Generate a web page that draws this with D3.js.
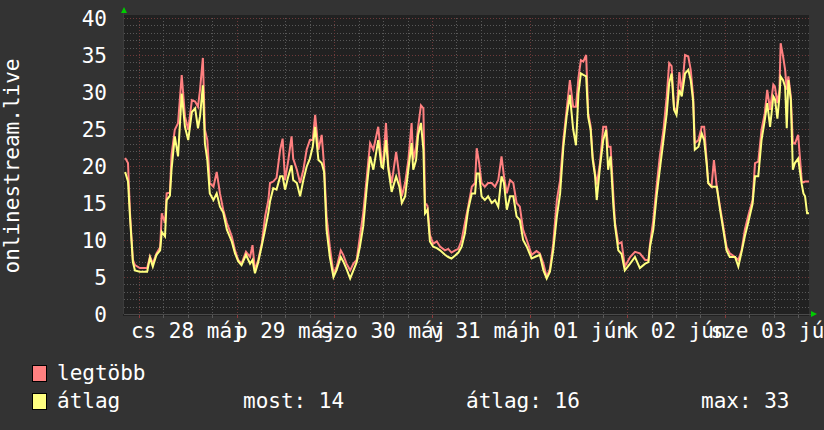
<!DOCTYPE html>
<html><head><meta charset="utf-8">
<script src="https://cdn.jsdelivr.net/npm/d3@7"></script>
<style>
html,body{margin:0;padding:0;background:#333333;}
svg{display:block;}
text{font-family:"DejaVu Sans Mono",monospace;fill:#ffffff;}
</style>
</head><body>
<svg id="chart" width="824" height="430"></svg>
<script>
// hours since 2015-05-28 00:00 (UTC-based clock)
const hours = [-3.4,-2.7,-2.2,-1.5,-1.0,0.2,2.0,2.7,3.4,4.3,5.2,5.6,6.4,6.8,7.6,8.0,8.8,9.6,10.5,11.3,12.1,13.0,13.8,14.5,15.0,15.7,16.2,16.8,17.4,18.3,19.1,19.9,20.7,21.6,22.8,23.6,24.4,25.2,26.3,27.3,27.9,28.5,29.3,30.2,31.0,31.8,32.2,33.0,33.8,34.7,35.3,35.9,36.7,37.5,37.9,38.8,39.6,40.4,41.2,42.0,42.7,43.3,44.1,44.9,45.5,46.1,46.9,47.8,48.6,49.6,50.2,51.0,51.9,52.7,53.5,54.3,55.1,56.0,56.8,57.6,58.8,59.6,60.0,60.7,61.3,62.1,63.2,64.0,64.6,65.4,66.2,67.0,67.4,68.1,68.6,69.3,69.9,70.3,70.9,71.5,72.3,73.2,74.0,75.2,76.0,76.8,77.7,78.5,79.3,80.1,80.9,81.8,82.6,83.0,83.6,84.2,85.0,85.8,86.7,87.5,88.3,89.1,89.7,90.4,91.2,92.0,92.8,93.6,94.4,95.3,96.5,97.7,98.5,99.4,100.2,101.0,101.8,102.7,103.5,104.3,105.1,105.9,106.7,107.4,108.0,108.6,109.2,109.9,110.4,111.0,111.5,112.1,112.5,113.3,114.1,114.8,115.3,115.9,116.6,117.0,117.8,118.6,119.4,120.7,121.9,123.1,124.4,125.2,125.6,126.4,127.2,128.0,128.9,129.7,130.3,130.9,131.5,132.1,132.8,133.4,134.2,135.0,135.6,136.2,136.6,137.5,138.3,138.9,139.5,139.9,140.7,141.3,142.0,142.8,143.6,144.4,145.2,146.5,147.3,148.1,148.9,149.7,150.8,151.4,152.2,153.0,153.8,154.4,155.1,155.9,156.3,156.9,157.4,157.7,158.3,158.8,159.2,159.6,160.2,160.7,161.2,162.0,162.9,163.3,163.7,164.2,164.7];

const maxValues = [21.1,20.4,13.6,7.3,6.6,6.2,6.2,7.8,6.8,8.2,9.0,13.6,12.3,16.3,16.4,21.5,24.9,25.8,32.3,26.7,24.9,28.9,28.7,28.0,30.3,34.6,24.9,23.5,17.7,17.2,19.2,16.3,14.1,12.3,10.5,8.6,7.3,6.8,8.4,7.7,9.3,5.9,7.3,9.6,13.2,15.4,17.7,17.9,18.4,22.2,23.7,18.1,20.8,24.0,21.0,19.5,17.7,19.5,22.2,23.5,23.5,26.9,22.2,24.2,20.0,13.2,9.1,5.5,6.4,8.6,8.0,6.8,5.9,6.8,7.3,10.5,13.6,18.6,23.1,22.2,25.3,20.8,20.4,25.8,19.9,17.7,21.9,18.6,15.9,17.7,20.8,25.8,20.8,22.6,25.3,28.2,27.8,15.0,14.6,10.7,9.5,9.8,9.1,8.6,8.8,8.3,8.6,8.8,10.0,12.3,14.5,17.2,17.7,22.4,20.4,17.7,17.2,17.7,17.7,17.2,18.1,21.3,18.6,16.3,18.1,17.7,15.0,14.5,11.4,10.0,8.0,8.5,8.2,6.8,5.0,6.1,9.5,15.4,18.1,23.5,27.6,31.6,28.0,28.0,31.9,34.3,34.1,35.0,27.1,25.4,21.3,19.0,17.5,20.4,25.3,25.3,22.6,22.6,15.9,12.3,9.5,9.7,6.4,7.7,8.4,8.2,7.3,7.3,9.5,12.7,17.2,21.3,24.9,29.4,33.9,33.5,28.0,27.1,32.7,29.9,35.0,34.8,33.0,29.4,23.1,23.5,25.3,25.3,20.8,17.7,17.2,20.8,17.2,14.5,11.8,9.1,8.2,7.7,7.3,8.6,11.4,13.2,15.4,20.4,20.6,24.9,27.1,30.3,27.6,31.0,30.7,28.5,30.3,36.6,34.8,33.0,30.3,32.1,29.4,23.1,23.0,24.2,17.9,17.8,17.9,17.9,17.9];

const avgValues = [19.2,17.9,13.0,7.0,5.9,5.7,5.7,7.6,6.4,8.0,8.6,11.1,10.5,15.4,16.0,19.5,24.0,21.3,29.8,25.3,23.5,27.3,27.8,25.1,26.7,30.9,23.1,20.8,16.3,15.4,16.3,14.5,13.7,11.4,9.8,8.2,7.1,6.6,8.0,6.8,7.3,5.5,7.0,9.3,11.4,13.7,15.2,17.0,16.8,18.6,18.6,16.8,18.6,20.1,18.1,17.7,15.9,18.1,19.9,21.0,22.6,25.3,20.8,20.4,19.2,11.4,7.7,5.0,6.0,7.7,7.1,6.1,4.8,5.9,7.0,9.1,11.8,17.2,21.3,19.5,23.5,19.9,19.7,23.5,19.5,16.5,18.6,17.2,15.0,15.9,19.5,23.1,19.5,20.8,24.2,25.8,22.2,13.6,14.1,9.8,9.1,8.9,8.6,8.0,7.7,7.5,7.9,8.3,9.1,10.9,14.1,16.3,16.3,19.0,19.0,15.9,15.4,15.9,15.0,15.4,14.5,18.6,17.7,14.1,15.9,15.9,13.2,12.7,10.0,9.1,7.5,7.8,8.0,5.9,4.8,5.7,8.6,13.2,16.3,22.6,26.7,29.6,25.0,22.8,29.8,32.5,32.3,32.1,26.6,24.9,20.9,18.6,15.4,19.9,23.5,24.9,19.5,21.3,14.5,11.9,8.6,8.1,5.9,6.8,7.7,6.2,6.8,7.0,9.1,11.4,15.9,19.5,23.5,27.1,31.2,32.5,27.6,26.9,30.3,29.4,32.5,33.0,31.6,28.7,22.2,22.6,24.4,23.5,20.4,17.7,17.2,17.2,17.2,14.1,11.4,8.6,7.7,7.7,6.4,8.4,10.5,12.3,14.9,18.6,18.6,23.5,26.2,28.5,25.3,29.4,29.0,26.4,29.4,32.1,31.6,30.7,25.1,31.6,28.9,19.5,20.4,21.0,17.5,16.3,15.9,13.6,13.6];

const yTicks = [0,5,10,15,20,25,30,35,40];
const dayLabels = ["cs 28 máj","p 29 máj","szo 30 máj","v 31 máj","h 01 jún","k 02 jún","sze 03 jún"];
const legendNames = ["legtöbb","átlag"];
const legendStats = ["most: 14","átlag: 16","max: 33"];
const axisLabel = "onlinestream.live";

if (hours.length !== maxValues.length || hours.length !== avgValues.length) {
  throw new Error("length mismatch " + hours.length + " " + maxValues.length + " " + avgValues.length);
}

const base = Date.UTC(2015,4,28,0,0);
const H = 3600e3;
const t = h => new Date(base + h*H);

const svg = d3.select("#chart");
const pLeft = 124, pRight = 809, pTop = 18, pBottom = 314;

const x = d3.scaleUtc().domain([t(-3.683), t(164.667)]).range([pLeft, pRight]);
const y = d3.scaleLinear().domain([0,40]).range([pBottom, pTop]);

svg.append("rect").attr("x",0).attr("y",0).attr("width",824).attr("height",430).attr("fill","#333333");
svg.append("rect").attr("x",pLeft-1).attr("y",pTop-3).attr("width",pRight-pLeft+1).attr("height",pBottom-pTop+5).attr("fill","#212121");

const grid = svg.append("g");
d3.range(1,41,1).forEach(v=>{
  const major = v%5===0;
  grid.append("line").attr("x1",pLeft).attr("x2",pRight).attr("y1",Math.round(y(v))+0.5).attr("y2",Math.round(y(v))+0.5)
    .attr("stroke", major ? "#6e3a3a" : "#585858").attr("stroke-width",1).attr("stroke-dasharray","1,2");
});
const gridTimes = d3.utcHour.every(6).range(x.domain()[0], x.domain()[1]);
gridTimes.forEach(d=>{
  const major = d.getUTCHours()===0;
  const px = Math.round(x(d))+0.5;
  grid.append("line").attr("x1",px).attr("x2",px).attr("y1",pTop).attr("y2",pBottom)
    .attr("stroke", major ? "#6e3a3a" : "#585858").attr("stroke-width",1).attr("stroke-dasharray","1,2");
  grid.append("line").attr("x1",px).attr("x2",px).attr("y1",pBottom).attr("y2",pBottom+4)
    .attr("stroke", major ? "#8a3a3a" : "#585858").attr("stroke-width",1);
});
svg.append("line").attr("x1",pLeft).attr("x2",pRight+2).attr("y1",pBottom+0.5).attr("y2",pBottom+0.5).attr("stroke","#4a4a4a");
svg.append("line").attr("x1",pLeft-0.5).attr("x2",pLeft-0.5).attr("y1",pTop-6).attr("y2",pBottom).attr("stroke","#3c3c3c");
svg.append("path").attr("d",`M${pLeft-3},${pTop-5} L${pLeft+3},${pTop-5} L${pLeft},${pTop-11} Z`).attr("fill","#00cc00");
svg.append("path").attr("d",`M${pRight+2},${pBottom-3} L${pRight+2},${pBottom+3} L${pRight+8},${pBottom} Z`).attr("fill","#00cc00");

svg.append("g").selectAll("text").data(yTicks).join("text")
  .attr("x",107).attr("y",d=>y(d)+7.5).attr("text-anchor","end").attr("font-size",21).text(d=>d);

svg.append("g").selectAll("text").data(dayLabels).join("text")
  .attr("x",(d,i)=>x(t(12+24*i))).attr("y",338).attr("text-anchor","middle").attr("font-size",21).text(d=>d);

svg.append("text").attr("transform",`translate(19,${(pTop+pBottom)/2}) rotate(-90)`)
  .attr("text-anchor","middle").attr("font-size",21).text(axisLabel);

const pts = vals => hours.map((h,i)=>[t(h), vals[i]]);
const line = d3.line().x(d=>x(d[0])).y(d=>y(d[1])).curve(d3.curveLinear);
svg.append("clipPath").attr("id","pc").append("rect").attr("x",pLeft).attr("y",0).attr("width",pRight-pLeft).attr("height",pBottom+1);
svg.append("path").datum(pts(maxValues)).attr("d",line).attr("fill","none").attr("stroke","#ff8080").attr("stroke-width",2).attr("clip-path","url(#pc)");
svg.append("path").datum(pts(avgValues)).attr("d",line).attr("fill","none").attr("stroke","#ffff80").attr("stroke-width",2).attr("clip-path","url(#pc)");

const legColors = ["#ff8080","#ffff80"];
legendNames.forEach((n,i)=>{
  svg.append("rect").attr("x",32.5).attr("y",365.5+28*i).attr("width",14).attr("height",16)
    .attr("fill",legColors[i]).attr("stroke","#000").attr("stroke-width",1);
  svg.append("text").attr("x",57).attr("y",380+28*i).attr("font-size",21).text(n);
});
const statX = [243,466,701];
legendStats.forEach((s,i)=>{
  svg.append("text").attr("x",statX[i]).attr("y",408).attr("font-size",21).text(s);
});
</script>
</body></html>
